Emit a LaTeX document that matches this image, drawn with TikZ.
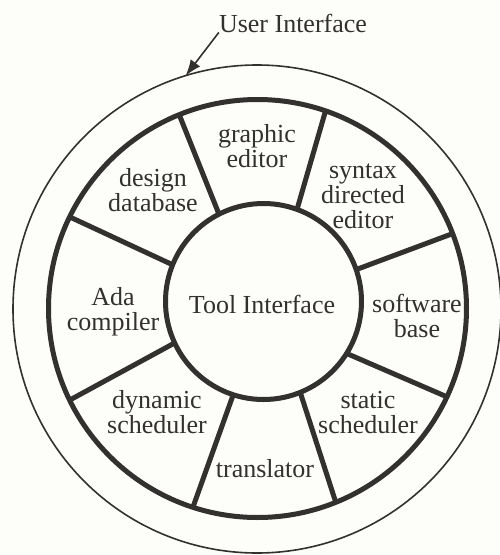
\documentclass[tikz,border=0pt]{standalone}
\usepackage{fontspec}
\setmainfont{Liberation Serif}
\usetikzlibrary{arrows.meta}
\definecolor{ink}{HTML}{333030}
\definecolor{paper}{HTML}{FDFDF9}
\begin{document}
\begin{tikzpicture}[x=1pt,y=-1pt,
  lbl/.style={font=\fontsize{26}{25}\selectfont, text=ink, align=center, inner sep=0pt, anchor=base},
  thickline/.style={draw=ink, line width=5pt},
  ring/.style={circle, thickline, inner sep=0pt, outer sep=0pt},
  spoke/.style={thickline, line cap=butt}]
\fill[paper] (0,0) rectangle (499,555);
\useasboundingbox (0,0) rectangle (499,555);
% circles
\node[circle, draw=ink, line width=1.6pt, inner sep=0pt, outer sep=0pt, minimum size=488pt] (outer) at (257,309) {};
\node[ring, minimum size=418pt] (mid) at (257.5,308.5) {};
\node[ring, minimum size=196pt] (core) at (263.5,301.5) {};
% spokes
\draw[spoke] (core.117.9) -- (mid.112.1);
\draw[spoke] (core.70.9) -- (mid.71.4);
\draw[spoke] (core.19.3) -- (mid.21.9);
\draw[spoke] (core.-32) -- (mid.-25.3);
\draw[spoke] (core.-68.7) -- (mid.-68.7);
\draw[spoke] (core.-108.3) -- (mid.-108.7);
\draw[spoke] (core.-155.5) -- (mid.-154.5);
\draw[spoke] (core.158.6) -- (mid.154.4);
% labels
\node[lbl] (ui) at (293,32) {User Interface};
\draw[draw=ink, line width=1.6pt, -{Latex[length=16pt,width=12pt]}] (ui.south west) -- (outer.107.1);
\node[lbl] (ti) at (262,313) {Tool Interface};
\node[lbl] (ge) at (257,167) {graphic\\editor};
\node[lbl] (dd) at (153,211) {design\\database};
\node[lbl] (sde) at (363,228) {syntax\\directed\\editor};
\node[lbl] (ada) at (113,330) {Ada\\compiler};
\node[lbl] (sb) at (417,337) {software\\base};
\node[lbl] (ds) at (157,433) {dynamic\\scheduler};
\node[lbl] (ss) at (368,433) {static\\scheduler};
\node[lbl] (tr) at (265,477) {translator};
\end{tikzpicture}
\end{document}
